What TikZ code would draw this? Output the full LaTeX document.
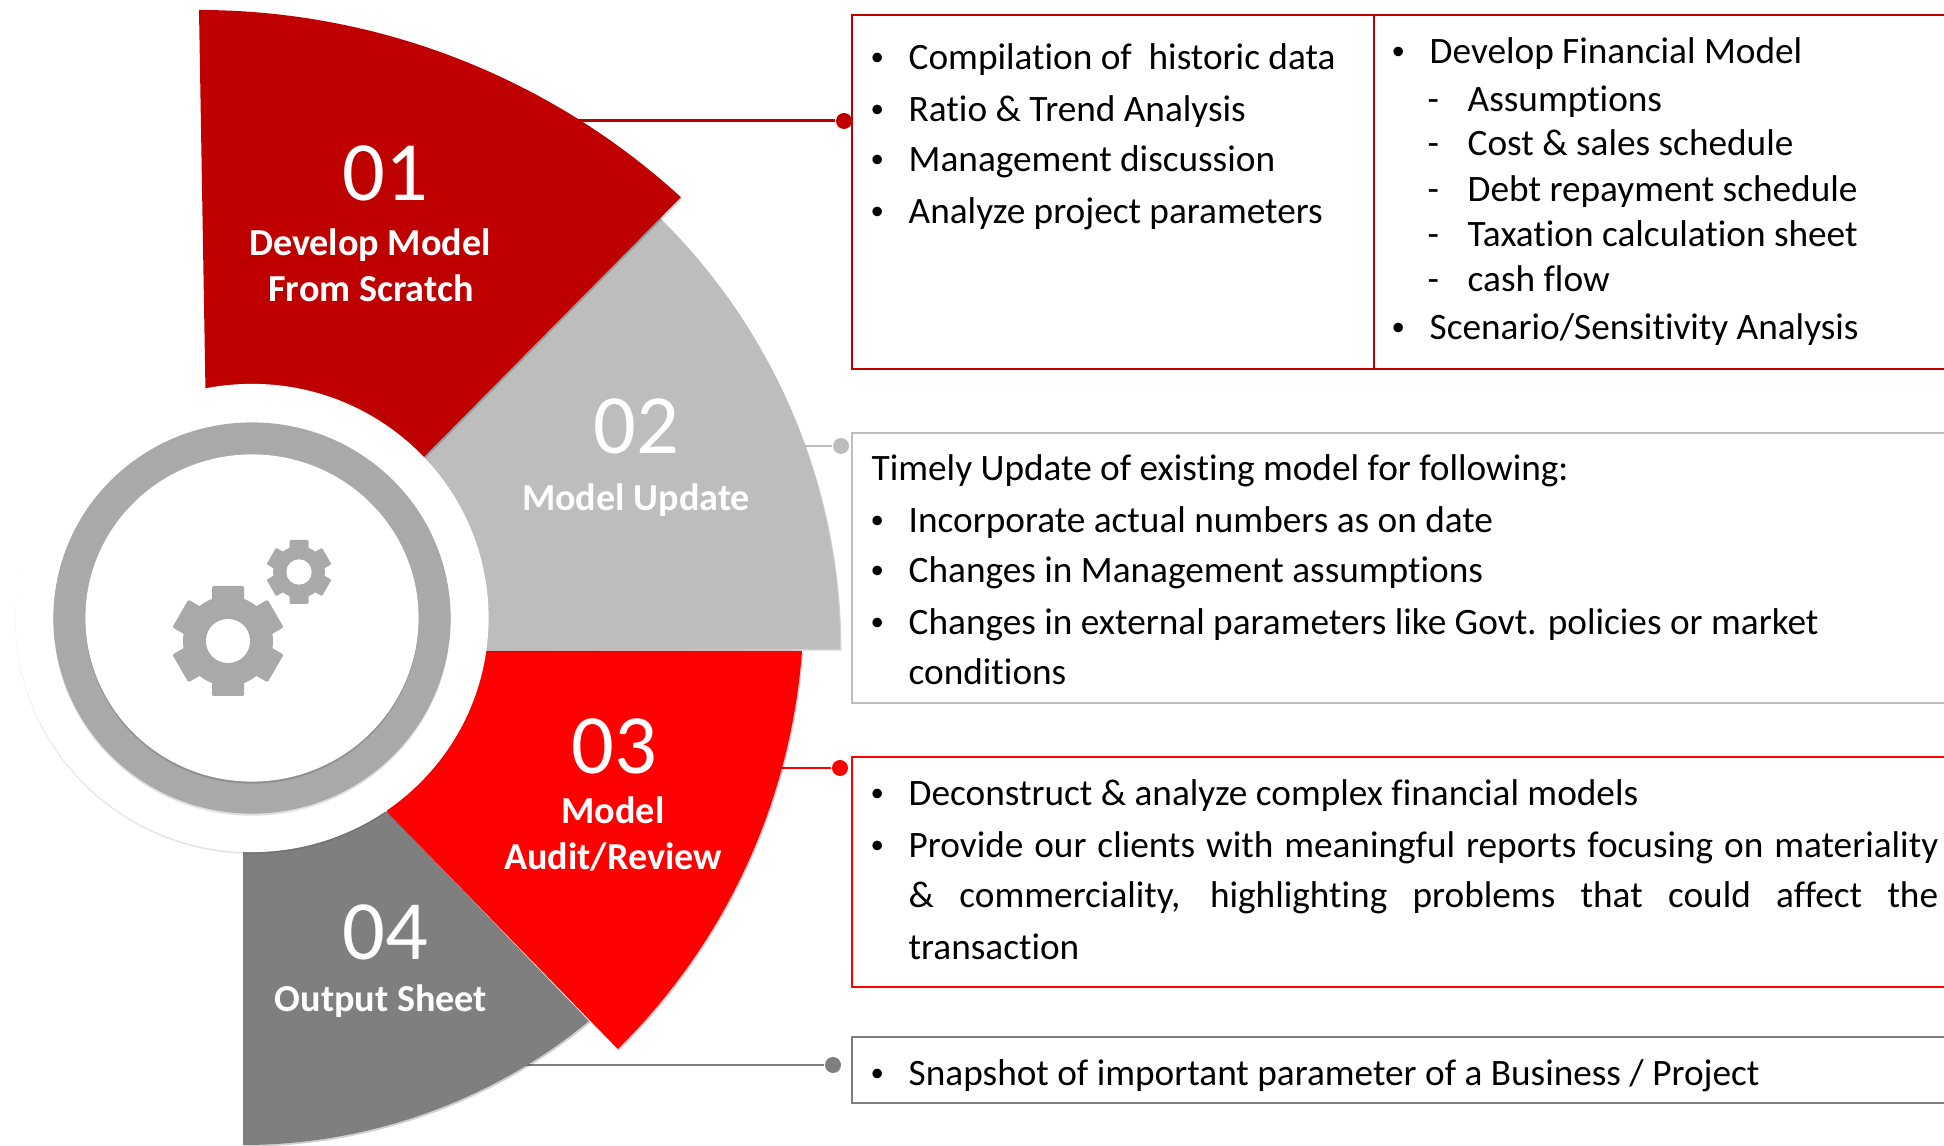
\documentclass[tikz,border=0pt]{standalone}
\usepackage{fontspec}
\setmainfont{Carlito}[Ligatures=NoCommon]
\usetikzlibrary{positioning,shadows,calc,shapes.geometric}
\definecolor{wineRed}{HTML}{BE0000}
\definecolor{lightGrey}{HTML}{BDBDBD}
\definecolor{pureRed}{HTML}{FF0000}
\definecolor{darkGrey}{HTML}{7F7F7F}
\definecolor{hubGrey}{HTML}{A9A9A9}
\newcommand{\blt}{\makebox[0.31cm][l]{\hspace{-0.07cm}\raisebox{0.25ex}{\scalebox{0.72}{\textbullet}}}}
\newcommand{\dsh}{\makebox[0.40cm][l]{-}}
\newcommand{\just}[1]{\makebox[10.29cm][s]{#1}}
\begin{document}
\begin{tikzpicture}[
        x=0.01cm, y=-0.01cm,
        wedge/.style={drop shadow={shadow xshift=0.35pt, shadow yshift=-0.5pt, opacity=0.18, fill=black}},
        numlabel/.style={anchor=base, inner sep=0pt, text=white, font=\fontsize{24}{28}\selectfont},
        namelabel/.style={anchor=base, inner sep=0pt, text=white, font=\fontsize{10.85}{12}\selectfont\bfseries},
        itm/.style={anchor=base west, inner sep=0pt, font=\fontsize{10.6}{12}\selectfont},
        infobox/.style={rectangle, draw, line width=0.55pt, fill=white, anchor=north west, inner sep=0pt, minimum width=11.5cm},
        dot/.style={circle, inner sep=0pt, minimum size=0.16cm},
        link/.style={line width=0.85pt},
        hub/.style={ellipse, inner sep=0pt}
    ]
        \useasboundingbox (0,0) rectangle (1944,1146);
        \coordinate (c1) at (575,121);
        \coordinate (c2) at (795,446);
        \coordinate (c3) at (775,768);
        \coordinate (c4) at (520,1065);
        \node[dot, fill=wineRed] (dot1) at (844,121) {};
        \node[dot, fill=lightGrey] (dot2) at (841,446) {};
        \node[dot, fill=pureRed] (dot3) at (840,768) {};
        \node[dot, fill=darkGrey] (dot4) at (833,1065) {};
        \draw[link, wineRed] (c1) -- (dot1);
        \draw[link, lightGrey] (c2) -- (dot2);
        \draw[link, pureRed] (c3) -- (dot3);
        \draw[link, darkGrey] (c4) -- (dot4);
        \fill[darkGrey, wedge] (243,1145) arc[start angle=90, end angle=50.6, radius=545] -- (387,812) -- (243,800) -- cycle;
        \fill[pureRed, wedge] (802,651) arc[start angle=4.25, end angle=45.4, radius=624] -- (387,812) -- (400,651) -- cycle;
        \fill[lightGrey, wedge] (660,218) arc[start angle=-45.4, end angle=0, radius=605] -- (400,651) -- (410,470) -- cycle;
        \fill[wineRed, wedge] (199,10) arc[start angle=-90, end angle=-47.55, radius=714] -- (405,476) -- (207,480) -- cycle;
        \node[hub, fill=white, minimum width=4.73cm, minimum height=4.68cm, drop shadow={shadow xshift=0pt, shadow yshift=-0.5pt, opacity=0.1, fill=black}] (hubOuter) at (252,618) {};
        \node[hub, fill=hubGrey, minimum width=3.97cm, minimum height=3.91cm, drop shadow={shadow xshift=0pt, shadow yshift=-0.6pt, opacity=0.12, fill=black}] (hubRing) at (hubOuter) {};
        \node[hub, fill=white, minimum width=3.33cm, minimum height=3.27cm, drop shadow={shadow xshift=0pt, shadow yshift=-0.6pt, opacity=0.15, fill=black}] (hubInner) at (hubOuter) {};
        \coordinate (gearA) at (228,641);
        \coordinate (gearB) at (299,572);
        \fill[hubGrey] (gearA) circle[radius=45];
        \foreach \a in {0,60,...,300} {
            \fill[hubGrey, rounded corners=0.4pt, rotate around={\a:(gearA)}] ($(gearA)+(-16,-55)$) rectangle ($(gearA)+(16,-30)$);
        }
        \fill[white] (gearA) circle[radius=22];
        \fill[hubGrey] (gearB) circle[radius=26];
        \foreach \a in {0,60,...,300} {
            \fill[hubGrey, rounded corners=0.3pt, rotate around={\a:(gearB)}] ($(gearB)+(-9.5,-32)$) rectangle ($(gearB)+(9.5,-18)$);
        }
        \fill[white] (gearB) circle[radius=12.7];
        \node[numlabel] (num1) at (385,201) {01};
        \node[namelabel] (name1a) at (370,256) {Develop Model};
        \node[namelabel] (name1b) at (371,302) {From Scratch};
        \node[numlabel] (num2) at (636,454) {02};
        \node[namelabel] (name2) at (636,511) {Model Update};
        \node[numlabel] (num3) at (614,774) {03};
        \node[namelabel] (name3a) at (613,824) {Model};
        \node[namelabel] (name3b) at (613,870) {Audit/Review};
        \node[numlabel] (num4) at (385,960) {04};
        \node[namelabel] (name4) at (381,1012) {Output Sheet};
        \node[infobox, draw=wineRed, minimum height=3.54cm] (box1) at (851,14) {};
        \node[infobox, draw=lightGrey, minimum height=2.70cm] (box2) at (851,432) {};
        \node[infobox, draw=pureRed, minimum height=2.30cm] (box3) at (851,756) {};
        \node[infobox, draw=darkGrey, minimum height=0.66cm] (box4) at (851,1036) {};
        \coordinate (split) at (1374,14);
        \draw[wineRed, line width=0.4pt] (split) -- (split |- box1.south);
        \node[itm] (a1) at (877,70) {\blt Compilation of\ \ historic data};
        \node[itm] (a2) at (877,122) {\blt Ratio \& Trend Analysis};
        \node[itm] (a3) at (877,172) {\blt Management discussion};
        \node[itm] (a4) at (877,224) {\blt Analyze project parameters};
        \node[itm] (b1) at (1398,64) {\blt Develop Financial Model};
        \node[itm] (b2) at (1427,112) {\dsh Assumptions};
        \node[itm] (b3) at (1427,156) {\dsh Cost \& sales schedule};
        \node[itm] (b4) at (1427,202) {\dsh Debt repayment schedule};
        \node[itm] (b5) at (1427,247) {\dsh Taxation calculation sheet};
        \node[itm] (b6) at (1427,292) {\dsh cash flow};
        \node[itm] (b7) at (1398,340) {\blt Scenario/Sensitivity Analysis};
        \node[itm] (c0) at (871,481) {Timely Update of existing model for following:};
        \node[itm] (c5) at (877,533) {\blt Incorporate actual numbers as on date};
        \node[itm] (c6) at (877,583) {\blt Changes in Management assumptions};
        \node[itm] (c7) at (877,635) {\blt Changes in external parameters like Govt. policies or market};
        \node[itm] (c8) at (908,685) {conditions};
        \node[itm] (d1) at (877,806) {\blt Deconstruct \& analyze complex financial models};
        \node[itm] (d2) at (877,858) {\blt\just{Provide our clients with meaningful reports focusing on materiality}};
        \node[itm] (d3) at (908,908) {\just{\& commerciality, highlighting problems that could affect the}};
        \node[itm] (d4) at (908,960) {transaction};
        \node[itm] (e1) at (877,1086) {\blt Snapshot of important parameter of a Business / Project};
    \end{tikzpicture}
\end{document}
